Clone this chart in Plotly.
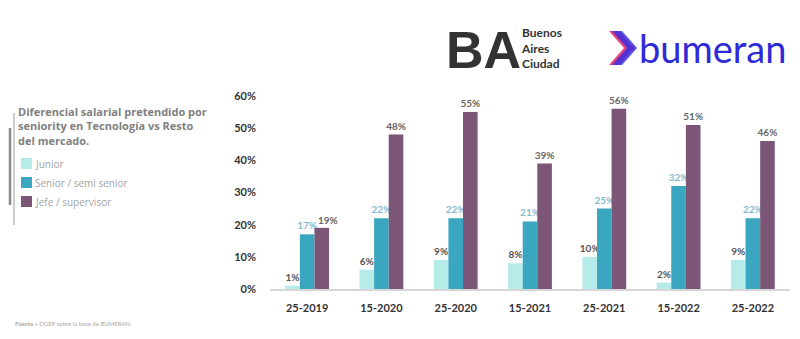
import plotly.graph_objects as go

periods = ["25-2019", "15-2020", "25-2020", "15-2021", "25-2021", "15-2022", "25-2022"]
junior = [1, 6, 9, 8, 10, 2, 9]
senior = [17, 22, 22, 21, 25, 32, 22]
jefe = [19, 48, 55, 39, 56, 51, 46]
series_names = ["Junior", "Senior / semi senior", "Jefe / supervisor"]
y_ticks = [0, 10, 20, 30, 40, 50, 60]

W, H = 800, 339
L, R, T, B = 270, 10, 96, 50
PW, PH = W - L - R, H - T - B


def px(x):
    return (x - L) / PW


def py(y):
    return (H - B - y) / PH


colors = ["#b5ebe8", "#3ba6bf", "#7b5677"]
label_colors = ["#555555", "#86b9d0", "#666666"]
label_font = dict(family="Lato", size=10, weight="bold")

fig = go.Figure()
for i, (name, vals, c, lc) in enumerate(zip(series_names, [junior, senior, jefe], colors, label_colors)):
    texts = [f"{v}%" for v in vals]
    if i == 2:
        texts[0] = ""  # drawn as a nudged annotation below to avoid touching the neighbour label
    fig.add_trace(go.Bar(
        x=periods, y=vals, name=name, marker=dict(color=c, line=dict(width=0)),
        text=texts, textposition="outside", constraintext="none",
        textfont=dict(**label_font, color=lc),
        cliponaxis=False, showlegend=False,
    ))

fig.update_layout(
    width=W, height=H, margin=dict(l=L, r=R, t=T, b=B, autoexpand=False),
    paper_bgcolor="white", plot_bgcolor="white",
    barmode="group", bargap=0.41, bargroupgap=0,
    font=dict(family="Lato"),
    showlegend=False,
    xaxis=dict(
        showline=True, linecolor="#d6d6d6", linewidth=1.5,
        showgrid=False, ticks="", ticklabelstandoff=8,
        tickfont=dict(family="Lato", size=11, color="#333333", weight="bold"),
    ),
    yaxis=dict(
        range=[0, 60], tickvals=y_ticks, ticktext=[f"{v}%" for v in y_ticks],
        showgrid=False, zeroline=False, showline=False, ticks="",
        ticklabelstandoff=13,
        tickfont=dict(family="Lato", size=11, color="#333333", weight="bold"),
    ),
)

annotations = [
    dict(x=px(16), y=py(102), xanchor="left", yanchor="top", align="left",
         text="Diferencial salarial pretendido por<br>seniority en Tecnología vs Resto<br>del mercado.",
         font=dict(family="Open Sans", size=11, color="#808080", weight="bold"), showarrow=False),
    dict(x=px(13), y=py(323), xanchor="left", yanchor="middle", align="left",
         text="<b>Fuente »</b> DGEP sobre la base de BUMERAN",
         font=dict(family="Lato", size=6, color="#a8a8a8"), showarrow=False),
    dict(x=px(444), y=py(50), xanchor="left", yanchor="middle",
         text="<b>BA</b>", font=dict(family="Liberation Sans", size=52, color="#333333"), showarrow=False),
    dict(x=px(519), y=py(48), xanchor="left", yanchor="middle", align="left",
         text="Buenos<br>Aires<br>Ciudad",
         font=dict(family="Lato", size=12, color="#333333", weight="bold"), showarrow=False),
    dict(x=px(637), y=py(48), xanchor="left", yanchor="middle",
         text="bumeran", font=dict(family="Lato", size=38, color="#2e2ad8"), showarrow=False),
]
for a in annotations:
    a["xref"] = "paper"
    a["yref"] = "paper"

# nudged value label for the first Jefe bar (data-positioned)
annotations.append(dict(
    xref="x", yref="y", x=periods[0], y=jefe[0], xanchor="center", yanchor="bottom",
    xshift=21, yshift=0, text=f"{jefe[0]}%", showarrow=False,
    font=dict(**label_font, color=label_colors[2]),
))

shapes = [
    dict(type="line", x0=px(10), x1=px(10), y0=py(128), y1=py(205),
         line=dict(color="#8a8a8a", width=2.5)),
    dict(type="line", x0=px(14), x1=px(14), y0=py(113), y1=py(225),
         line=dict(color="#9a9a9a", width=1)),
    dict(type="path",
         path=f"M {px(609)} {py(31)} L {px(619)} {py(31)} L {px(634)} {py(48)} L {px(619)} {py(65)} L {px(609)} {py(65)} L {px(624)} {py(48)} Z",
         fillcolor="#e8457a", line=dict(width=0)),
    dict(type="path",
         path=f"M {px(612)} {py(31)} L {px(622)} {py(31)} L {px(637)} {py(48)} L {px(622)} {py(65)} L {px(612)} {py(65)} L {px(627)} {py(48)} Z",
         fillcolor="#3b2ee0", line=dict(width=0), opacity=0.85),
]

# manual legend
legend_y = [163.5, 182.5, 201.5]
for name, c, yc in zip(series_names, colors, legend_y):
    shapes.append(dict(type="rect", x0=px(21), x1=px(32), y0=py(yc - 5.5), y1=py(yc + 5.5),
                       fillcolor=c, line=dict(width=0)))
    annotations.append(dict(x=px(33), y=py(yc), xanchor="left", yanchor="middle",
                            text=name, showarrow=False, xref="paper", yref="paper",
                            font=dict(family="Open Sans", size=10, color="#a3a3a3")))

for s in shapes:
    s["xref"] = "paper"
    s["yref"] = "paper"
fig.update_layout(annotations=annotations, shapes=shapes)

fig.write_html("out.html")
